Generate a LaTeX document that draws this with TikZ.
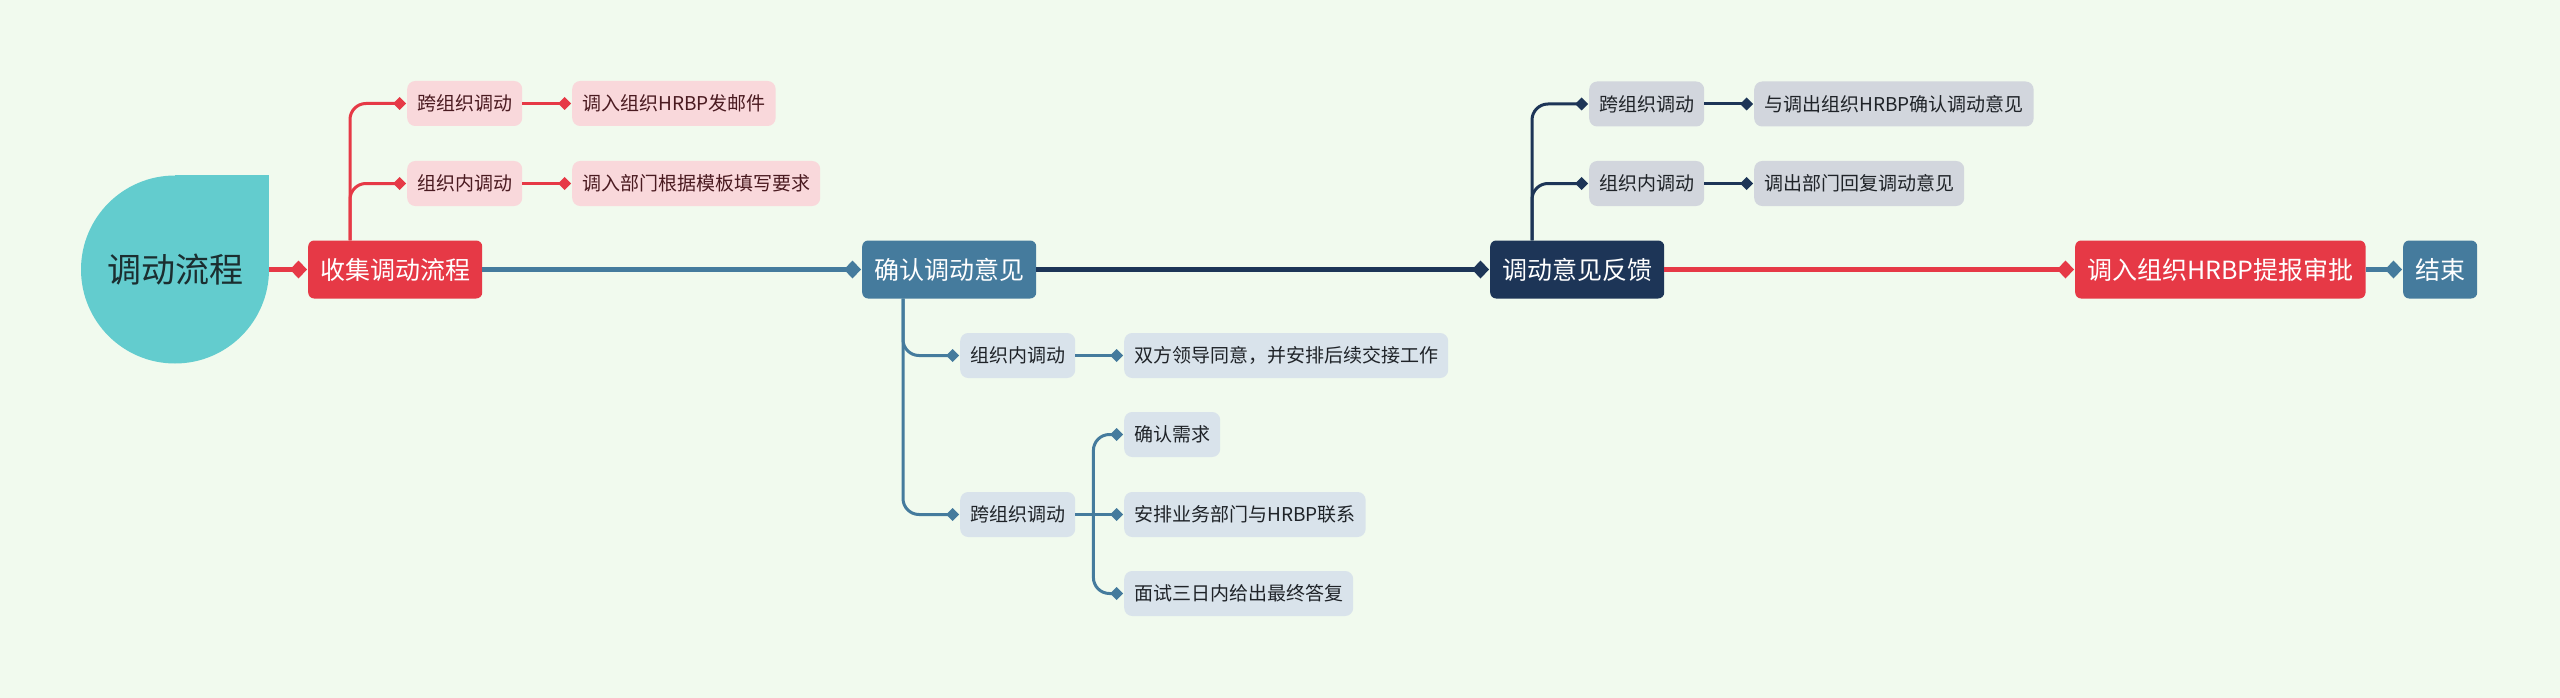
\documentclass[tikz,border=0pt]{standalone}
\usepackage{fontspec}
\setmainfont{Noto Sans CJK SC}
\usetikzlibrary{arrows.meta}
\definecolor{bg}{HTML}{F1FAEE}
\definecolor{cred}{HTML}{E63946}
\definecolor{cnavy}{HTML}{1D3557}
\definecolor{csteel}{HTML}{457B9D}
\definecolor{cteal}{HTML}{63CCCE}
\definecolor{fpink}{HTML}{F9D8DB}
\definecolor{fblue}{HTML}{D9E3EB}
\definecolor{fgray}{HTML}{D2D6DD}
\definecolor{tmaroon}{HTML}{4A1A20}
\definecolor{tdark}{HTML}{1F2328}
\definecolor{troot}{HTML}{1B2E30}
\begin{document}
\begin{tikzpicture}[x=1pt,y=-1pt,
  mainbox/.style={rounded corners=6pt, minimum height=58pt, inner xsep=12pt, anchor=west,
    font=\fontsize{25}{30}\selectfont, text=white},
  subbox/.style={rounded corners=8pt, minimum height=45pt, inner xsep=10pt, anchor=west,
    font=\fontsize{19}{23}\selectfont},
  redsub/.style={subbox, fill=fpink, text=tmaroon},
  bluesub/.style={subbox, fill=fblue, text=tdark},
  graysub/.style={subbox, fill=fgray, text=tdark},
  mainline/.style={line width=5pt, -{Diamond[length=17pt,width=18pt]}, shorten >=1pt},
  branchline/.style={line width=3pt, rounded corners=16pt, -{Diamond[length=13pt,width=13pt]}, shorten >=1pt}
]
\fill[bg] (0,0) rectangle (2560,698);
\useasboundingbox (0,0) rectangle (2560,698);

% root
\fill[cteal] (175,269.5) circle[radius=94pt];
\fill[cteal] (175,269.5) rectangle (269,175.5);
\node[circle, minimum size=188pt, inner sep=0pt, font=\fontsize{34}{40}\selectfont, text=troot] (root) at (175,269.5) {调动流程};

% main row
\node[mainbox, fill=cred] (shouji) at (308,269.5) {收集调动流程};
\node[mainbox, fill=csteel] (queren) at (862,269.5) {确认调动意见};
\node[mainbox, fill=cnavy] (fankui) at (1490,269.5) {调动意见反馈};
\node[mainbox, fill=cred] (tibao) at (2075,269.5) {调入组织HRBP提报审批};
\node[mainbox, fill=csteel] (jieshu) at (2403,269.5) {结束};

% red group
\node[redsub] (s1) at (407,103.5) {跨组织调动};
\node[redsub] (s2) at (407,183.5) {组织内调动};
\node[redsub] (s1a) at (572,103.5) {调入组织HRBP发邮件};
\node[redsub] (s2a) at (572,183.5) {调入部门根据模板填写要求};

% steel group
\node[bluesub] (q1) at (960,355.5) {组织内调动};
\node[bluesub] (q1a) at (1124,355.5) {双方领导同意，并安排后续交接工作};
\node[bluesub] (q2) at (960,514.5) {跨组织调动};
\node[bluesub] (q2a) at (1124,434.5) {确认需求};
\node[bluesub] (q2b) at (1124,514.5) {安排业务部门与HRBP联系};
\node[bluesub] (q2c) at (1124,593.5) {面试三日内给出最终答复};

% navy group
\node[graysub] (f1) at (1589,104) {跨组织调动};
\node[graysub] (f1a) at (1754,104) {与调出组织HRBP确认调动意见};
\node[graysub] (f2) at (1589,183.5) {组织内调动};
\node[graysub] (f2a) at (1754,183.5) {调出部门回复调动意见};

% main connectors
\draw[mainline, cred] (root.east) -- (shouji.west);
\draw[mainline, csteel] (shouji.east) -- (queren.west);
\draw[mainline, cnavy] (queren.east) -- (fankui.west);
\draw[mainline, cred] (fankui.east) -- (tibao.west);
\draw[mainline, csteel] (tibao.east) -- (jieshu.west);

% red branches
\draw[branchline, cred] ([xshift=42pt]shouji.north west) |- (s1.west);
\draw[branchline, cred] ([xshift=42pt]shouji.north west) |- (s2.west);
\draw[branchline, cred] (s1.east) -- (s1a.west);
\draw[branchline, cred] (s2.east) -- (s2a.west);

% steel branches
\draw[branchline, csteel] ([xshift=41pt]queren.south west) |- (q1.west);
\draw[branchline, csteel] ([xshift=41pt]queren.south west) |- (q2.west);
\draw[branchline, csteel] (q1.east) -- (q1a.west);
\coordinate (j) at ([xshift=18pt]q2.east);
\draw[branchline, csteel] (j) |- (q2a.west);
\draw[branchline, csteel] (j) |- (q2c.west);
\draw[branchline, csteel] (q2.east) -- (q2b.west);

% navy branches
\draw[branchline, cnavy] ([xshift=42pt]fankui.north west) |- (f1.west);
\draw[branchline, cnavy] ([xshift=42pt]fankui.north west) |- (f2.west);
\draw[branchline, cnavy] (f1.east) -- (f1a.west);
\draw[branchline, cnavy] (f2.east) -- (f2a.west);
\end{tikzpicture}
\end{document}
